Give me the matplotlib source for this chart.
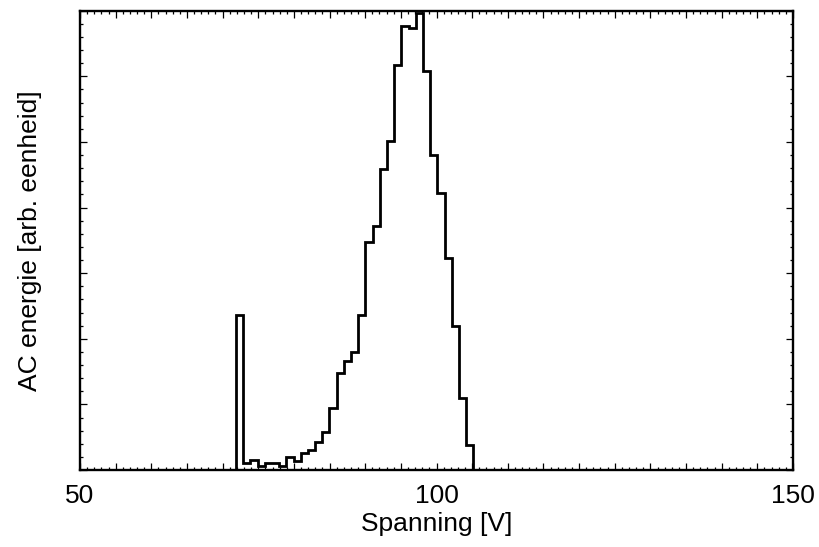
import numpy as np
import matplotlib
matplotlib.use("Agg")
import matplotlib.pyplot as plt
from matplotlib.ticker import MultipleLocator, FuncFormatter

plt.rcParams['font.family'] = ['Liberation Sans', 'DejaVu Sans']

# Histogram bin edges (V) and AC energy per bin (arbitrary units)
bin_edges = [71.88, 72.89, 73.90, 74.91, 75.91, 76.92, 77.93, 78.94, 79.95, 80.96,
             81.97, 82.97, 83.98, 84.99, 86.00, 87.01, 88.02, 89.02, 90.03, 91.04,
             92.05, 93.06, 94.07, 95.08, 96.08, 97.09, 98.10, 99.11, 100.12, 101.13,
             102.14, 103.14, 104.15, 105.16]
energy = [2.36, 0.11, 0.15, 0.066, 0.10, 0.10, 0.066, 0.20, 0.13, 0.26,
          0.31, 0.43, 0.58, 0.94, 1.48, 1.66, 1.80, 2.36, 3.48, 3.72,
          4.59, 5.02, 6.17, 6.77, 6.73, 6.96, 6.08, 4.80, 4.22, 3.23,
          2.20, 1.09, 0.38]

x_labels = [50, 100, 150]

fig = plt.figure(figsize=(8.19, 5.47), dpi=100)
ax = fig.add_axes([80/819, 1-470/547, (793-80)/819, (470-10.7)/547])

ax.stairs(energy, bin_edges, baseline=0, color='black', linewidth=2.0)

ax.set_xlim(50, 150)
ax.set_ylim(0, 7)
ax.xaxis.set_major_locator(MultipleLocator(5))
ax.xaxis.set_minor_locator(MultipleLocator(1))
ax.yaxis.set_major_locator(MultipleLocator(1))
ax.yaxis.set_minor_locator(MultipleLocator(0.2))
ax.xaxis.set_major_formatter(FuncFormatter(
    lambda v, p: f"{int(round(v))}" if int(round(v)) in x_labels else ""))
ax.yaxis.set_major_formatter(FuncFormatter(lambda v, p: ""))

ax.tick_params(which='both', direction='in', top=True, right=True, width=0.9)
ax.tick_params(which='major', length=5, labelsize=19, pad=10)
ax.tick_params(which='minor', length=2.5)
for s in ax.spines.values():
    s.set_linewidth(1.7)

ax.set_xlabel("Spanning [V]", fontsize=19, labelpad=3)
ax.set_ylabel("AC energie [arb. eenheid]", fontsize=19, labelpad=17)

fig.savefig("out.png", dpi=100)
